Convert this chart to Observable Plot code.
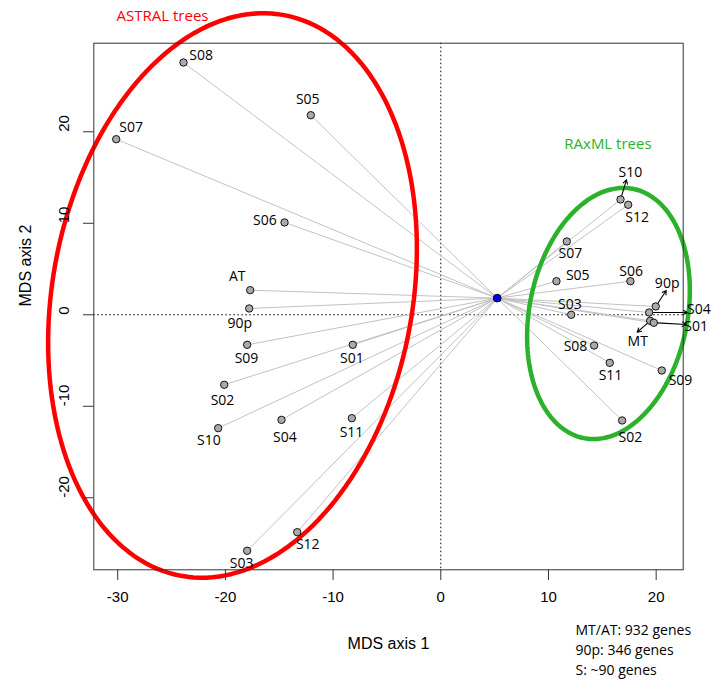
<!DOCTYPE html>
<html><head><meta charset="utf-8">
<script src="https://cdn.jsdelivr.net/npm/d3@7"></script>
<script src="https://cdn.jsdelivr.net/npm/@observablehq/plot@0.6"></script>
<style>body{margin:0;background:#fff}</style>
</head><body><div id="chart"></div>
<script>
// ASTRAL trees (red group)
const astralLabels = ["S08","S05","S07","S06","AT","90p","S09","S01","S02","S10","S04","S11","S12","S03"];
const astralX = [-23.89,-12.07,-30.14,-14.51,-17.70,-17.79,-17.98,-8.17,-20.11,-20.67,-14.79,-8.26,-13.33,-17.98];
const astralY = [27.57,21.81,19.19,10.09,2.69,0.69,-3.28,-3.28,-7.65,-12.39,-11.48,-11.30,-23.76,-25.79];
const astralLabelX = [-22.25,-12.35,-28.75,-16.34,-18.90,-18.66,-18.04,-8.26,-20.27,-21.54,-14.48,-8.29,-12.35,-18.50];
const astralLabelY = [28.31,23.56,20.44,10.31,4.22,-0.92,-4.81,-4.81,-9.37,-13.74,-13.44,-12.83,-25.10,-27.15];

// RAxML trees (green group)
const raxmlLabels = ["S10","S12","S07","S05","S06","S03","90p","S04","MT","S01","S08","S11","S09","S02"];
const raxmlX = [16.69,17.40,11.70,10.74,17.61,12.11,19.96,19.35,19.44,19.78,14.24,15.69,20.52,16.84];
const raxmlY = [12.60,12.02,8.01,3.67,3.67,0.00,0.91,0.25,-0.66,-0.87,-3.36,-5.25,-6.09,-11.55];
const raxmlLabelX = [17.61,18.24,12.04,12.72,17.68,11.98,21.02,23.96,18.29,23.71,12.51,15.76,22.26,17.61];
const raxmlLabelY = [15.52,10.67,6.67,4.26,4.73,1.09,3.39,0.63,-2.92,-1.33,-3.43,-6.63,-7.18,-13.38];

// arrows pointing from crowded RAxML points to their labels
const arrowLabels = ["S10","90p","S04","MT","S01"];
const arrowEndX = [17.24,20.93,22.88,18.24,22.79];
const arrowEndY = [14.75,2.66,0.25,-1.90,-1.06];

// centroid (blue point)
const centroidX = 5.24, centroidY = 1.82;

// ellipses: center and two conjugate semi-diameters (data units)
const ellipseGroups = ["ASTRAL","RAxML"];
const ellipseCX = [-19.34, 15.57];
const ellipseCY = [2.11, 0.14];
const ellipseAX = [4.78, 2.29];
const ellipseAY = [30.64, 13.62];
const ellipseBX = [16.44, 7.20];
const ellipseBY = [-3.55, -1.68];

const groupTitles = ["ASTRAL trees", "RAxML trees"];
const groupTitleX = [-25.84, 15.52];
const groupTitleY = [32.6, 18.69];

const xTicks = [-30,-20,-10,0,10,20];
const yTicks = [-20,-10,0,10,20];
const captionLines = ["MT/AT: 932 genes","90p: 346 genes","S: ~90 genes"];
const captionX = 12.51;

const RED = "#ff0000", GREEN = "#2bb12b";

const astral = astralLabels.map((l,i)=>({label:l,x:astralX[i],y:astralY[i],lx:astralLabelX[i],ly:astralLabelY[i]}));
const raxml = raxmlLabels.map((l,i)=>({label:l,x:raxmlX[i],y:raxmlY[i],lx:raxmlLabelX[i],ly:raxmlLabelY[i]}));
const allPts = astral.concat(raxml);
const arrows = arrowLabels.map((l,i)=>{const p = raxml.find(d=>d.label===l); return {x1:p.x,y1:p.y,x2:arrowEndX[i],y2:arrowEndY[i]};});

function ellipsePts(i){
  return d3.range(0,361,2).map(deg=>{const t=deg*Math.PI/180;
    return {x: ellipseCX[i]+ellipseAX[i]*Math.cos(t)+ellipseBX[i]*Math.sin(t),
            y: ellipseCY[i]+ellipseAY[i]*Math.cos(t)+ellipseBY[i]*Math.sin(t)};});
}

const chart = Plot.plot({
  width: 711, height: 681,
  marginLeft: 93.3, marginRight: 28.3, marginTop: 42.7, marginBottom: 111.7,
  x: {domain: [-32.22, 22.51]},
  y: {domain: [-27.87, 29.68]},
  style: {fontFamily: "Open Sans", background: "white", overflow: "visible"},
  marks: [
    Plot.ruleX([0], {stroke: "black", strokeDasharray: "1.5,2.5", strokeWidth: 1}),
    Plot.ruleY([0], {stroke: "black", strokeDasharray: "1.5,2.5", strokeWidth: 1}),
    Plot.link(allPts, {x1: () => centroidX, y1: () => centroidY, x2: "x", y2: "y", stroke: "#c2c2c2", strokeWidth: 1}),
    Plot.line(ellipsePts(0), {x: "x", y: "y", stroke: RED, strokeWidth: 4.5}),
    Plot.line(ellipsePts(1), {x: "x", y: "y", stroke: GREEN, strokeWidth: 4.5}),
    Plot.arrow(arrows, {x1: "x1", y1: "y1", x2: "x2", y2: "y2", stroke: "black", strokeWidth: 1.1, insetStart: 3, headLength: 6}),
    Plot.dot(allPts, {x: "x", y: "y", r: 3.7, fill: "#aaaaaa", stroke: "black", strokeWidth: 0.9}),
    Plot.dot([0], {x: () => centroidX, y: () => centroidY, r: 3.9, fill: "#0000ff", stroke: "black", strokeWidth: 0.9}),
    Plot.text(allPts, {x: "lx", y: "ly", text: "label", fontSize: 14, fill: "black", fontFamily: "Open Sans"}),
    Plot.text(groupTitles, {x: (d,i) => groupTitleX[i], y: (d,i) => groupTitleY[i], text: d => d, fill: (d,i) => i === 0 ? RED : GREEN, fontSize: 15, fontFamily: "Open Sans"}),
    Plot.frame({stroke: "#333"}),
    Plot.axisX({ticks: xTicks, tickSize: 10.7, tickFormat: () => "", stroke: "#333"}),
    Plot.axisY({ticks: yTicks, tickSize: 10.3, tickFormat: () => "", stroke: "#333"}),
    Plot.text(xTicks, {x: d => d, text: d => String(d), frameAnchor: "bottom", dy: 32, fontSize: 15, fontFamily: "Liberation Sans", fill: "black"}),
    Plot.text(yTicks, {y: d => d, text: d => String(d), frameAnchor: "left", dx: -30, rotate: -90, fontSize: 15, fontFamily: "Liberation Sans", fill: "black"}),
    Plot.text(["MDS axis 1"], {text: d => d, frameAnchor: "bottom", dy: 78.7, fontSize: 16, fontFamily: "Liberation Sans", fill: "black"}),
    Plot.text(["MDS axis 2"], {text: d => d, frameAnchor: "left", dx: -68.3, rotate: -90, fontSize: 16, fontFamily: "Liberation Sans", fill: "black"}),
    Plot.text([captionLines.join("\n")], {x: () => captionX, text: d => d, frameAnchor: "bottom", dy: 78.5, textAnchor: "start", lineAnchor: "middle", lineHeight: 1.45, fontSize: 14, fontFamily: "Open Sans", fill: "black"})
  ]
});
document.getElementById("chart").appendChild(chart);
</script></body></html>
